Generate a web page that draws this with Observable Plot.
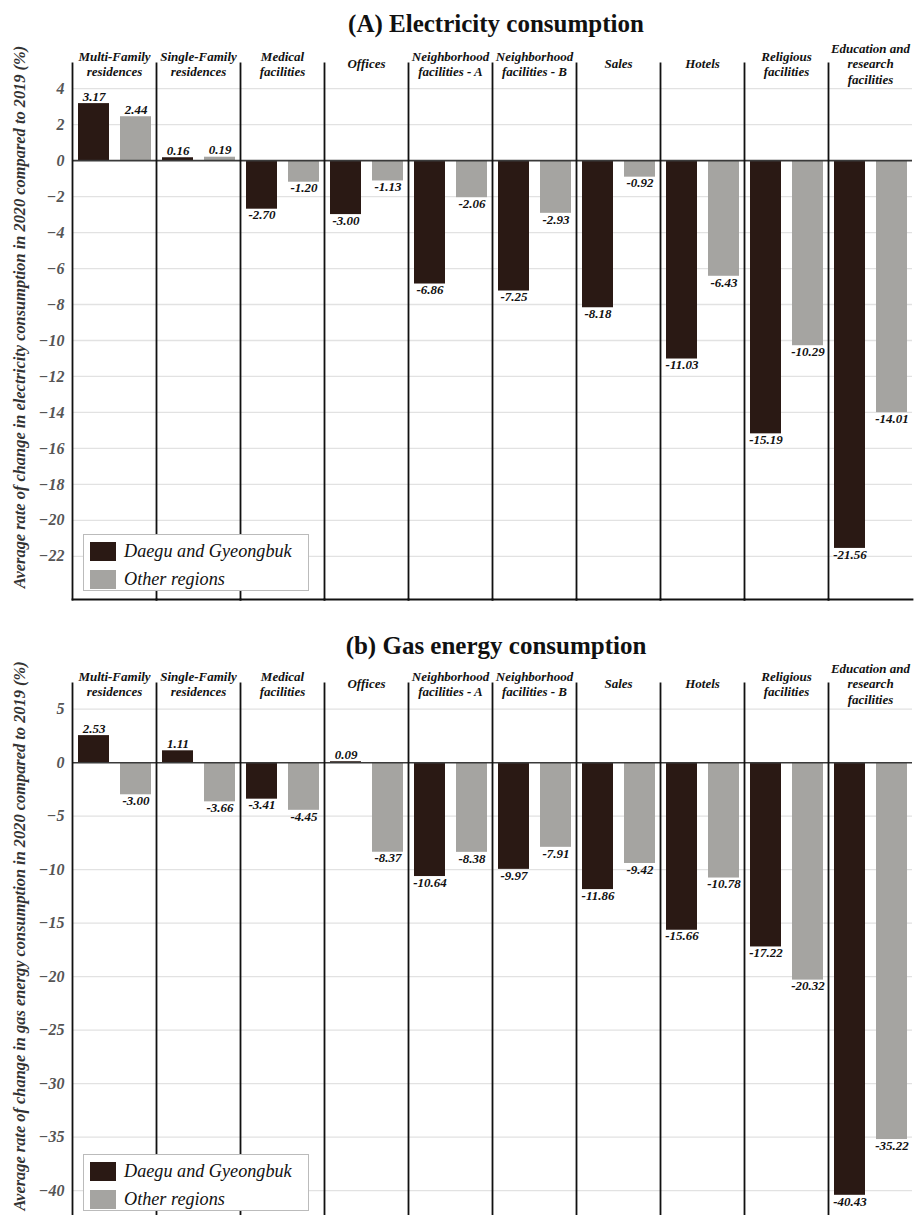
<!DOCTYPE html>
<html>
<head>
<meta charset="utf-8">
<script src="https://cdn.jsdelivr.net/npm/d3@7"></script>
<script src="https://cdn.jsdelivr.net/npm/@observablehq/plot@0.6"></script>
<style>
  html, body { margin: 0; padding: 0; background: #fff; }
  body { width: 914px; height: 1215px; position: relative; overflow: hidden;
         font-family: 'Liberation Serif', serif; }
  .title { position: absolute; left: 70px; width: 852px; text-align: center; font-family: 'Liberation Serif', serif;
           font-size: 25px; font-weight: bold; height: 28px; line-height: 28px; color: #111; }
  .chart { position: absolute; left: 0; }
  .ylab { position: absolute; left: 20px; transform: translate(-50%, -50%) rotate(-90deg); font-family: 'Liberation Serif', serif;
          white-space: nowrap; font-size: 16.4px; font-weight: bold; font-style: italic; color: #333; }
  .legend { position: absolute; left: 83px; width: 226px; height: 57px; background: #fff;
            border: 1px solid #bbb; box-sizing: border-box; }
  .legend .row { position: absolute; left: 6px; height: 20px; display: flex; align-items: center; }
  .legend .sw { width: 26px; height: 19px; margin-right: 8px; }
  .legend .lt { font-family: 'Liberation Serif', serif; font-size: 18.2px; font-style: italic; color: #111; }
</style>
</head>
<body>
<div class="title" style="top:10px">(A) Electricity consumption</div>
<div class="chart" id="chartA" style="top:36px"></div>
<div class="ylab" style="top:317px">Average rate of change in electricity consumption in 2020 compared to 2019 (%)</div>
<div class="legend" id="legA" style="top:534px"></div>

<div class="title" style="top:632px">(b) Gas energy consumption</div>
<div class="chart" id="chartB" style="top:656px"></div>
<div class="ylab" style="top:936px">Average rate of change in gas energy consumption in 2020 compared to 2019 (%)</div>
<div class="legend" id="legB" style="top:1154px"></div>

<script>
const categories = ["Multi-Family residences", "Single-Family residences", "Medical facilities", "Offices",
  "Neighborhood facilities - A", "Neighborhood facilities - B", "Sales", "Hotels",
  "Religious facilities", "Education and research facilities"];
const facetLabels = ["Multi-Family\nresidences", "Single-Family\nresidences", "Medical\nfacilities", "Offices",
  "Neighborhood\nfacilities - A", "Neighborhood\nfacilities - B", "Sales", "Hotels",
  "Religious\nfacilities", "Education and\nresearch\nfacilities"];
const regions = ["Daegu and Gyeongbuk", "Other regions"];
const regionColors = ["#2a1914", "#a5a4a1"];

const elecDaegu = [3.17, 0.16, -2.70, -3.00, -6.86, -7.25, -8.18, -11.03, -15.19, -21.56];
const elecOther = [2.44, 0.19, -1.20, -1.13, -2.06, -2.93, -0.92, -6.43, -10.29, -14.01];
const gasDaegu = [2.53, 1.11, -3.41, 0.09, -10.64, -9.97, -11.86, -15.66, -17.22, -40.43];
const gasOther = [-3.00, -3.66, -4.45, -8.37, -8.38, -7.91, -9.42, -10.78, -20.32, -35.22];

const elecTicks = [4, 2, 0, -2, -4, -6, -8, -10, -12, -14, -16, -18, -20, -22];
const gasTicks = [5, 0, -5, -10, -15, -20, -25, -30, -35, -40];

const FONT = "Liberation Serif";
const fontOpts = {fontFamily: FONT, fontStyle: "italic", fontWeight: "bold"};

function toRows(daegu, other) {
  const rows = [];
  categories.forEach((c, i) => {
    rows.push({cat: c, region: regions[0], value: daegu[i]});
    rows.push({cat: c, region: regions[1], value: other[i]});
  });
  return rows;
}

function makeChart(daegu, other, ticks, yDomain, height) {
  const data = toRows(daegu, other);
  return Plot.plot({
    width: 914,
    height,
    marginLeft: 70,
    marginRight: 0,
    marginTop: 27,
    marginBottom: 5,
    style: {fontFamily: FONT, fontStyle: "italic", fontWeight: "bold",
            background: "transparent", overflow: "visible"},
    fx: {domain: categories, padding: 0, axis: null},
    x: {domain: regions, paddingInner: 0.27, paddingOuter: 0.12, axis: null},
    y: {domain: yDomain, nice: false, axis: null},
    color: {domain: regions, range: regionColors},
    marks: [
      Plot.ruleY(ticks.filter(t => t !== 0), {stroke: "#e2e2e2", strokeWidth: 1.3}),
      Plot.barY(data, {fx: "cat", x: "region", y: "value", fill: "region"}),
      Plot.ruleY([0], {stroke: "#3a3a3a", strokeWidth: 1.6}),
      Plot.frame({anchor: "left", stroke: "#111", strokeWidth: 1.8}),
      Plot.frame({anchor: "bottom", stroke: "#111", strokeWidth: 1.8}),
      Plot.axisY(ticks, {tickSize: 0, tickPadding: 8, fontSize: 16, color: "#555", label: null, ...fontOpts}),
      Plot.text(data.filter(d => d.value >= 0), {fx: "cat", x: "region", y: "value",
        text: d => d.value.toFixed(2), lineAnchor: "bottom", dy: -3, fontSize: 13, fill: "#111", ...fontOpts}),
      Plot.text(data.filter(d => d.value < 0), {fx: "cat", x: "region", y: "value",
        text: d => d.value.toFixed(2), lineAnchor: "top", dy: 1, fontSize: 13, fill: "#111", ...fontOpts}),
      Plot.text(categories, {fx: d => d, text: (d, i) => facetLabels[i], frameAnchor: "top",
        lineAnchor: "middle", fontSize: 13, lineHeight: 1.18, fill: "#111", ...fontOpts})
    ]
  });
}

document.getElementById("chartA").append(makeChart(elecDaegu, elecOther, elecTicks, [-24.4, 5.4], 568));
document.getElementById("chartB").append(makeChart(gasDaegu, gasOther, gasTicks, [-44, 7.4], 582));

function legend(el) {
  regions.forEach((r, i) => {
    const row = document.createElement("div");
    row.className = "row";
    row.style.top = (i === 0 ? 6 : 34) + "px";
    const sw = document.createElement("div");
    sw.className = "sw";
    sw.style.background = regionColors[i];
    const lt = document.createElement("span");
    lt.className = "lt";
    lt.textContent = r;
    row.append(sw, lt);
    el.append(row);
  });
}
legend(document.getElementById("legA"));
legend(document.getElementById("legB"));
</script>
</body>
</html>
